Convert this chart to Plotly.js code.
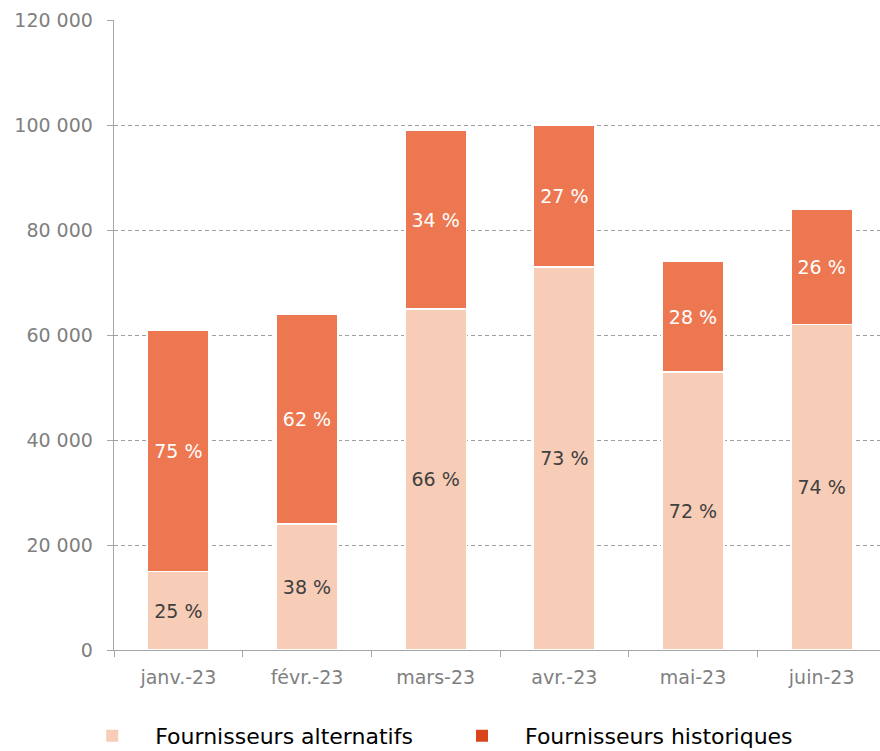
<!DOCTYPE html>
<html><head><meta charset="utf-8">
<script src="https://cdn.plot.ly/plotly-3.0.1.min.js"></script>
<style>html,body{margin:0;padding:0;overflow:hidden;background:#fff;width:880px;height:751px}</style>
</head><body>
<div id="chart"></div>
<script>
const months = ["janv.-23","févr.-23","mars-23","avr.-23","mai-23","juin-23"];
const alternatifs = [15000,24000,65000,73000,53000,62000];
const historiques = [46000,40000,34000,27000,21000,22000];
const altLabels = ["25 %","38 %","66 %","73 %","72 %","74 %"];
const histLabels = ["75 %","62 %","34 %","27 %","28 %","26 %"];
const seriesNames = ["Fournisseurs alternatifs","Fournisseurs historiques"];

const F = "DejaVu Sans, Arial, sans-serif";
const traces = [
  {type:"bar", x:months, y:alternatifs, text:altLabels, textposition:"inside", insidetextanchor:"middle",
   textfont:{family:F,size:19,color:"#404040"}, marker:{color:"#F8CDB7",line:{color:"#fff",width:1.5}},
   showlegend:false, hoverinfo:"skip"},
  {type:"bar", x:months, y:historiques, text:histLabels, textposition:"inside", insidetextanchor:"middle",
   textfont:{family:F,size:19,color:"#ffffff"}, marker:{color:"#EC7751",line:{color:"#fff",width:1.5}},
   showlegend:false, hoverinfo:"skip"},
  {type:"scatter", mode:"markers", x:[null], y:[null], name:seriesNames[0], legend:"legend",
   marker:{symbol:"square",size:12,color:"#F8CDB7"}},
  {type:"scatter", mode:"markers", x:[null], y:[null], name:seriesNames[1], legend:"legend2",
   marker:{symbol:"square",size:12,color:"#D9441B"}}
];
const legendBase = {orientation:"h", xref:"paper", xanchor:"left", yref:"container", y:0.048, yanchor:"top",
  itemwidth:76, font:{family:F,size:22,color:"#000"}, itemclick:false, bgcolor:"rgba(0,0,0,0)"};
const layout = {
  width:890, height:751,
  margin:{l:114,r:4,t:20,b:101},
  barmode:"stack", bargap:0.52,
  separators:", ",
  paper_bgcolor:"#fff", plot_bgcolor:"#fff",
  font:{family:F,color:"#7f7f7f"},
  xaxis:{type:"category", showline:true, linecolor:"#A6A6A6", linewidth:1.3,
    ticks:"outside", tickson:"boundaries", ticklen:6, tickcolor:"#A6A6A6",
    tickfont:{family:F,size:19,color:"#7f7f7f"}, showgrid:false, fixedrange:true, ticklabelstandoff:10},
  yaxis:{range:[0,120000], dtick:20000, tickformat:",d", showline:true, linecolor:"#A6A6A6", linewidth:1.3,
    ticks:"outside", ticklen:6, tickcolor:"#A6A6A6", showgrid:true, gridcolor:"#A0A0A0", griddash:"4px,3px",
    gridwidth:1, zeroline:false, tickfont:{family:F,size:19,color:"#7f7f7f"}, ticklabelstandoff:10},
  legend:Object.assign({}, legendBase, {x:-0.058}),
  legend2:Object.assign({}, legendBase, {x:0.421})
};
Plotly.newPlot("chart", traces, layout, {displayModeBar:false, staticPlot:true});
</script>
</body></html>
